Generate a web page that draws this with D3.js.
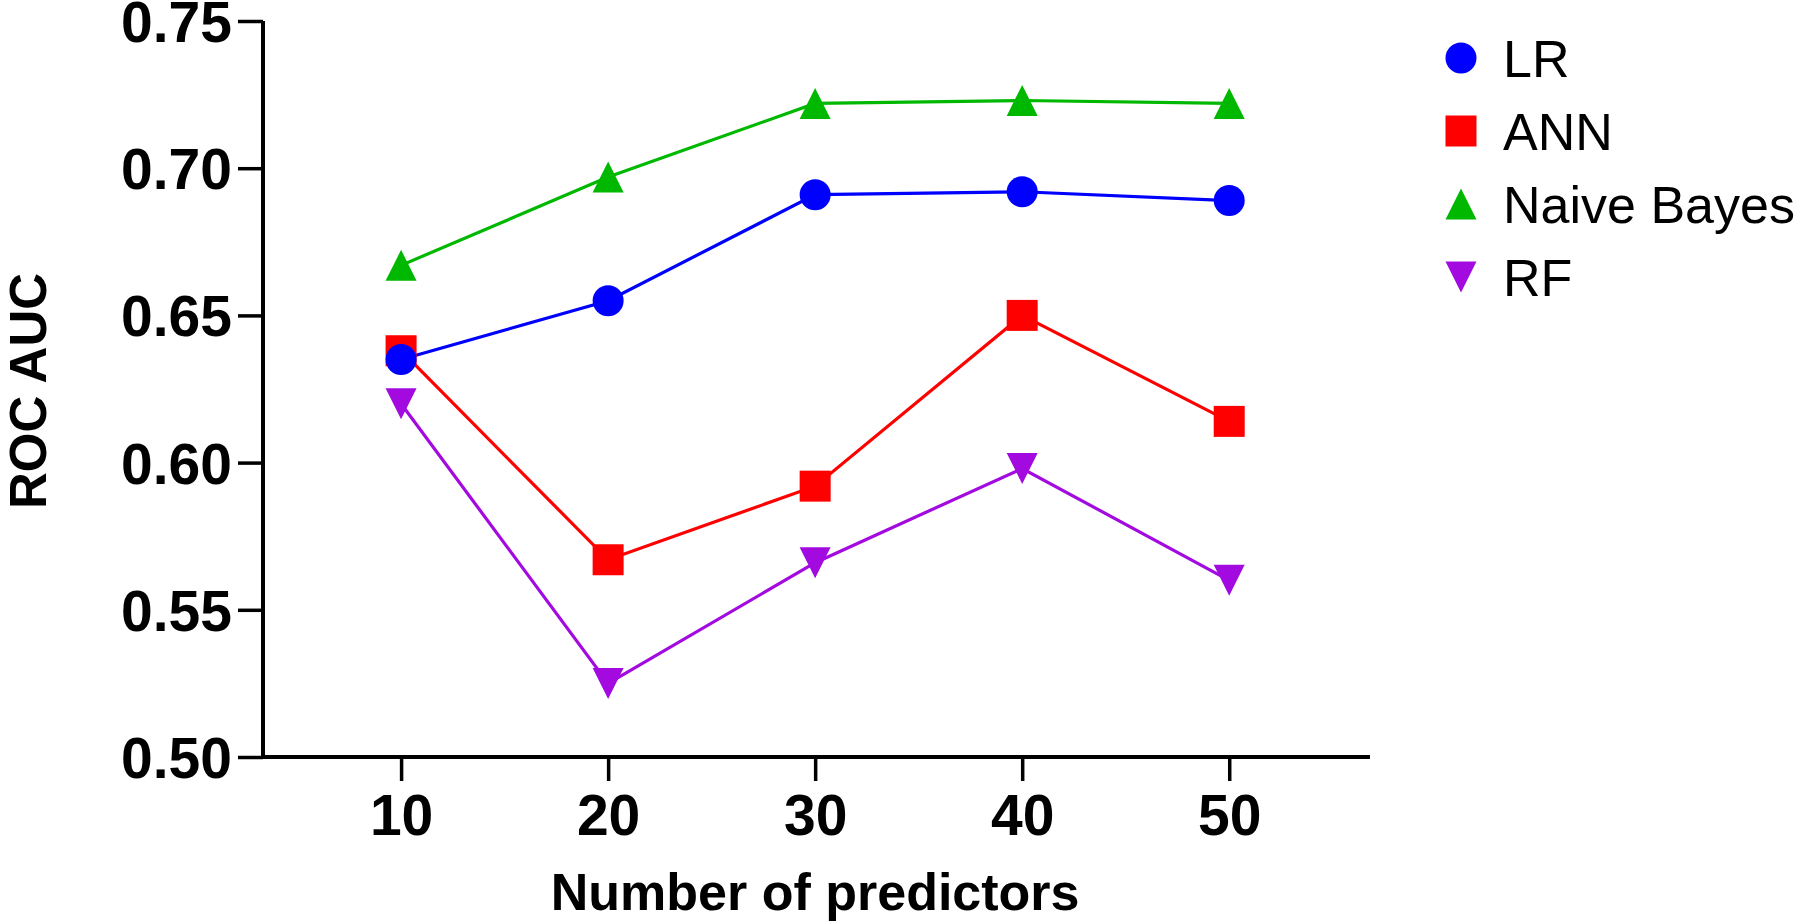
<!DOCTYPE html>
<html>
<head>
<meta charset="utf-8">
<script src="https://cdn.jsdelivr.net/npm/d3@7"></script>
<style>
  html, body { margin: 0; padding: 0; background: #fff; }
  svg { display: block; }
</style>
</head>
<body>
<svg id="chart" width="1800" height="922"></svg>
<script>
// ---- data ----
const predictors = [10, 20, 30, 40, 50];
const seriesNames = ["LR", "ANN", "Naive Bayes", "RF"];
const lrValues = [0.635, 0.655, 0.691, 0.692, 0.689];
const annValues = [0.638, 0.567, 0.592, 0.650, 0.614];
const nbValues = [0.667, 0.697, 0.722, 0.723, 0.722];
const rfValues = [0.620, 0.525, 0.566, 0.598, 0.560];
const yTicks = [0.50, 0.55, 0.60, 0.65, 0.70, 0.75];
const xTicks = [10, 20, 30, 40, 50];
const xTitle = "Number of predictors";
const yTitle = "ROC AUC";

const colors = ["#0000ff", "#ff0000", "#00b800", "#a30ae0"];
const shapes = ["circle", "square", "up", "down"];
const allValues = [lrValues, annValues, nbValues, rfValues];

const series = seriesNames.map((name, i) => ({
  name, color: colors[i], shape: shapes[i],
  points: predictors.map((p, j) => ({ x: p, y: allValues[i][j] }))
}));

const svg = d3.select("#chart");
const x = d3.scaleLinear().domain([3.33, 56.8]).range([263, 1370]);
const y = d3.scaleLinear().domain([0.50, 0.75]).range([757, 21]);

const boldFont = "'Liberation Sans', Arial, sans-serif";

// marker generator
function markerPath(shape, s) {
  const h = s / 2;
  if (shape === "circle") return d3.symbol().type(d3.symbolCircle).size(Math.PI * h * h)();
  if (shape === "square") return `M${-h},${-h}H${h}V${h}H${-h}Z`;
  if (shape === "up") return `M0,${-h}L${h},${h}L${-h},${h}Z`;
  if (shape === "down") return `M0,${h}L${h},${-h}L${-h},${-h}Z`;
}

// axes
const yAxis = d3.axisLeft(y).tickValues(yTicks).tickFormat(d3.format(".2f")).tickSize(25).tickPadding(6);
const gy = svg.append("g").attr("transform", `translate(${x.range()[0]},0)`).call(yAxis);
const xAxis = d3.axisBottom(x).tickValues(xTicks).tickFormat(d3.format("d")).tickSize(24).tickPadding(14);
const gx = svg.append("g").attr("transform", `translate(0,${y.range()[0]})`).call(xAxis);

[gx, gy].forEach(g => {
  g.select(".domain").attr("stroke", "#000").attr("stroke-width", 4);
  g.selectAll(".tick line").attr("stroke", "#000").attr("stroke-width", 3.5);
  g.selectAll(".tick text")
    .attr("fill", "#000")
    .style("font-family", boldFont)
    .style("font-weight", "bold")
    .style("font-size", "57px");
});
// domain paths without outer ticks
gy.select(".domain").attr("d", `M0,${y.range()[1]}V${y.range()[0] + 2}`);
gx.select(".domain").attr("d", `M${x.range()[0] - 2},0H${x.range()[1]}`);
gy.selectAll(".tick text").attr("dy", "0.36em");

// titles
svg.append("text")
  .attr("x", x(30)).attr("y", 910)
  .attr("text-anchor", "middle")
  .style("font-family", boldFont).style("font-weight", "bold").style("font-size", "52px")
  .text(xTitle);

svg.append("text")
  .attr("transform", `translate(46,${(757 + 21) / 2 + 2}) rotate(-90)`)
  .attr("text-anchor", "middle")
  .style("font-family", boldFont).style("font-weight", "bold").style("font-size", "51px")
  .text(yTitle);

// lines
const line = d3.line().x(d => x(d.x)).y(d => y(d.y));
const order = [3, 1, 0, 2];
order.forEach(i => {
  const s = series[i];
  svg.append("path").datum(s.points)
    .attr("d", line).attr("fill", "none")
    .attr("stroke", s.color).attr("stroke-width", 3.2);
});
// markers
order.forEach(i => {
  const s = series[i];
  svg.append("g").selectAll("path").data(s.points).join("path")
    .attr("transform", d => `translate(${x(d.x)},${y(d.y)})`)
    .attr("d", markerPath(s.shape, 31))
    .attr("fill", s.color);
});

// legend
const legend = svg.append("g");
series.forEach((s, i) => {
  const cy = 58 + i * 73;
  legend.append("path")
    .attr("transform", `translate(1461,${cy})`)
    .attr("d", markerPath(s.shape, 31))
    .attr("fill", s.color);
  legend.append("text")
    .attr("x", 1503).attr("y", cy + 19)
    .style("font-family", "'Liberation Sans', Arial, sans-serif")
    .style("font-size", "52px")
    .attr("fill", "#000")
    .text(s.name);
});
</script>
</body>
</html>
